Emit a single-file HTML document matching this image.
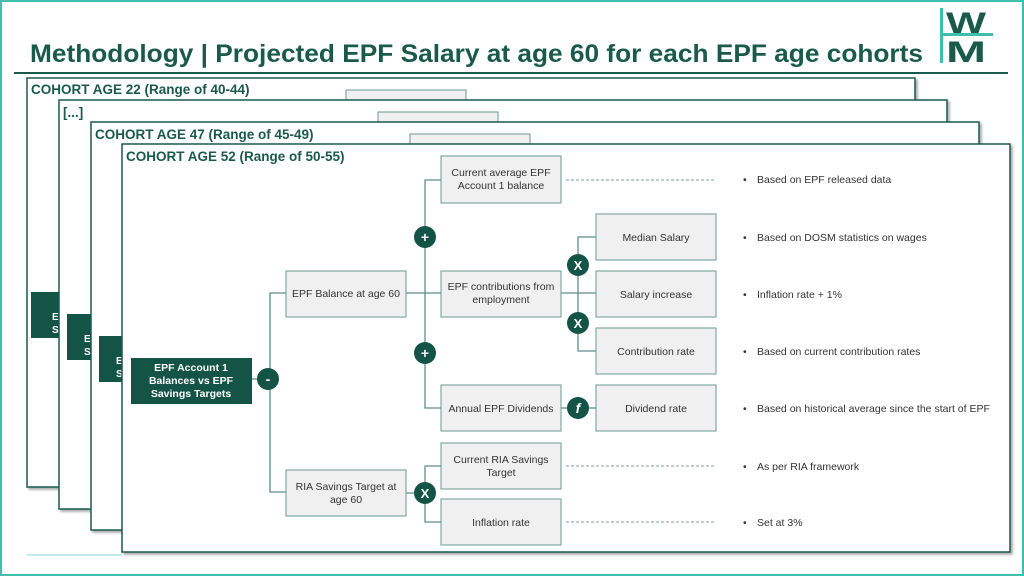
<!DOCTYPE html>
<html><head><meta charset="utf-8"><style>
html,body{margin:0;padding:0;background:#fff}
svg{display:block}
text{font-family:"Liberation Sans",sans-serif}
</style></head><body>
<svg width="1024" height="576" viewBox="0 0 1024 576" xmlns="http://www.w3.org/2000/svg">
<defs>
<filter id="sh" x="-5%" y="-5%" width="110%" height="110%"><feDropShadow dx="2" dy="2" stdDeviation="1.2" flood-color="#000" flood-opacity="0.35"/></filter>
</defs>
<rect x="1" y="1" width="1022" height="574" fill="#fff" stroke="#3dbfae" stroke-width="2"/>
<text x="30" y="62" font-size="25" font-weight="bold" fill="#1a5a4b" textLength="893" lengthAdjust="spacingAndGlyphs">Methodology | Projected EPF Salary at age 60 for each EPF age cohorts</text>
<line x1="14" y1="73" x2="1008" y2="73" stroke="#1a5a4b" stroke-width="2"/>
<!-- logo -->
<rect x="940" y="8" width="3" height="55" fill="#3dbfae"/>
<text x="966" y="33" font-size="30" font-weight="bold" fill="#1a5a4b" text-anchor="middle" textLength="40" lengthAdjust="spacingAndGlyphs">W</text>
<text x="966" y="62" font-size="30" font-weight="bold" fill="#1a5a4b" text-anchor="middle" textLength="40" lengthAdjust="spacingAndGlyphs">M</text>
<rect x="940" y="33" width="53" height="3" fill="#3dbfae"/>
<line x1="27" y1="555" x2="122" y2="555" stroke="#7fd6cb" stroke-width="1"/>

<!-- back cards -->
<rect x="27" y="78" width="888" height="409" fill="#fff" stroke="#1a5a4b" stroke-width="1.5" filter="url(#sh)"/>
<rect x="346" y="90" width="120" height="20" fill="#f0f0f0" stroke="#6a9990"/>
<rect x="31" y="292" width="40" height="46" fill="#135446"/>
<text x="52" y="320" font-size="10" font-weight="bold" fill="#fff">E</text><text x="52" y="333" font-size="10" font-weight="bold" fill="#fff">S</text>
<text x="31" y="94" font-size="13.5" font-weight="bold" fill="#1a5a4b">COHORT AGE 22 (Range of 40-44)</text>
<rect x="59" y="100" width="888" height="409" fill="#fff" stroke="#1a5a4b" stroke-width="1.5" filter="url(#sh)"/>
<rect x="378" y="112" width="120" height="20" fill="#f0f0f0" stroke="#6a9990"/>
<rect x="67" y="314" width="40" height="46" fill="#135446"/>
<text x="84" y="342" font-size="10" font-weight="bold" fill="#fff">E</text><text x="84" y="355" font-size="10" font-weight="bold" fill="#fff">S</text>
<text x="63" y="117" font-size="13.5" font-weight="bold" fill="#1a5a4b">[...]</text>
<rect x="91" y="122" width="888" height="408" fill="#fff" stroke="#1a5a4b" stroke-width="1.5" filter="url(#sh)"/>
<rect x="410" y="134" width="120" height="20" fill="#f0f0f0" stroke="#6a9990"/>
<rect x="99" y="336" width="40" height="46" fill="#135446"/>
<text x="116" y="364" font-size="10" font-weight="bold" fill="#fff">E</text><text x="116" y="377" font-size="10" font-weight="bold" fill="#fff">S</text>
<text x="95" y="139" font-size="13.5" font-weight="bold" fill="#1a5a4b">COHORT AGE 47 (Range of 45-49)</text>
<rect x="122" y="144" width="888" height="408" fill="#fff" stroke="#1a5a4b" stroke-width="1.5" filter="url(#sh)"/>
<text x="126" y="161" font-size="13.5" font-weight="bold" fill="#1a5a4b">COHORT AGE 52 (Range of 50-55)</text>

<!-- connectors -->
<g stroke="#5d8f86" stroke-width="1.3" fill="none">
<line x1="252" y1="379" x2="270" y2="379"/>
<polyline points="286,293 270,293 270,492 286,492"/>
<line x1="406" y1="293" x2="441" y2="293"/>
<polyline points="441,180 425,180 425,408 441,408"/>
<polyline points="441,466 425,466 425,522 441,522"/>
<line x1="406" y1="493" x2="425" y2="493"/>
<line x1="561" y1="293" x2="596" y2="293"/>
<polyline points="596,237 578,237 578,351 596,351"/>
<line x1="561" y1="408" x2="596" y2="408"/>
</g>
<g stroke="#7aa39b" stroke-width="1" stroke-dasharray="3,2">
<line x1="566" y1="180" x2="716" y2="180"/>
<line x1="566" y1="466" x2="716" y2="466"/>
<line x1="566" y1="522" x2="716" y2="522"/>
</g>

<!-- boxes -->
<rect x="131" y="358" width="121" height="46" fill="#135446"/>
<g font-size="10.5" font-weight="bold" fill="#fff" text-anchor="middle">
<text x="191" y="371">EPF Account 1</text>
<text x="191" y="384">Balances vs EPF</text>
<text x="191" y="397">Savings Targets</text>
</g>
<g fill="#f0f0f0" stroke="#6a9990" stroke-width="1">
<rect x="286" y="271" width="120" height="46"/>
<rect x="286" y="470" width="120" height="46"/>
<rect x="441" y="156" width="120" height="47"/>
<rect x="441" y="271" width="120" height="46"/>
<rect x="441" y="385" width="120" height="46"/>
<rect x="441" y="443" width="120" height="46"/>
<rect x="441" y="499" width="120" height="46"/>
<rect x="596" y="214" width="120" height="46"/>
<rect x="596" y="271" width="120" height="46"/>
<rect x="596" y="328" width="120" height="46"/>
<rect x="596" y="385" width="120" height="46"/>
</g>
<g font-size="10.5" fill="#333" text-anchor="middle">
<text x="346" y="297">EPF Balance at age 60</text>
<text x="346" y="490">RIA Savings Target at</text>
<text x="346" y="503">age 60</text>
<text x="501" y="176">Current average EPF</text>
<text x="501" y="189">Account 1 balance</text>
<text x="501" y="290">EPF contributions from</text>
<text x="501" y="303">employment</text>
<text x="501" y="412">Annual EPF Dividends</text>
<text x="501" y="463">Current RIA Savings</text>
<text x="501" y="476">Target</text>
<text x="501" y="526">Inflation rate</text>
<text x="656" y="241">Median Salary</text>
<text x="656" y="298">Salary increase</text>
<text x="656" y="355">Contribution rate</text>
<text x="656" y="412">Dividend rate</text>
</g>

<!-- operator circles -->
<g fill="#135446">
<circle cx="268" cy="379" r="11"/>
<circle cx="425" cy="237" r="11"/>
<circle cx="425" cy="353" r="11"/>
<circle cx="425" cy="493" r="11"/>
<circle cx="578" cy="265" r="11"/>
<circle cx="578" cy="323" r="11"/>
<circle cx="578" cy="408" r="11"/>
</g>
<g fill="#fff" font-weight="bold" text-anchor="middle">
<text x="268" y="384" font-size="14">-</text>
<text x="425" y="242" font-size="14">+</text>
<text x="425" y="358" font-size="14">+</text>
<text x="425" y="498" font-size="13">X</text>
<text x="578" y="270" font-size="13">X</text>
<text x="578" y="328" font-size="13">X</text>
<text x="578" y="413" font-size="14" font-style="italic" font-family="Liberation Serif,serif">f</text>
</g>

<!-- notes -->
<g font-size="10.5" fill="#333">
<text x="743" y="183">•</text><text x="757" y="183">Based on EPF released data</text>
<text x="743" y="241">•</text><text x="757" y="241">Based on DOSM statistics on wages</text>
<text x="743" y="298">•</text><text x="757" y="298">Inflation rate + 1%</text>
<text x="743" y="355">•</text><text x="757" y="355">Based on current contribution rates</text>
<text x="743" y="412">•</text><text x="757" y="412">Based on historical average since the start of EPF</text>
<text x="743" y="470">•</text><text x="757" y="470">As per RIA framework</text>
<text x="743" y="526">•</text><text x="757" y="526">Set at 3%</text>
</g>
</svg>
</body></html>
